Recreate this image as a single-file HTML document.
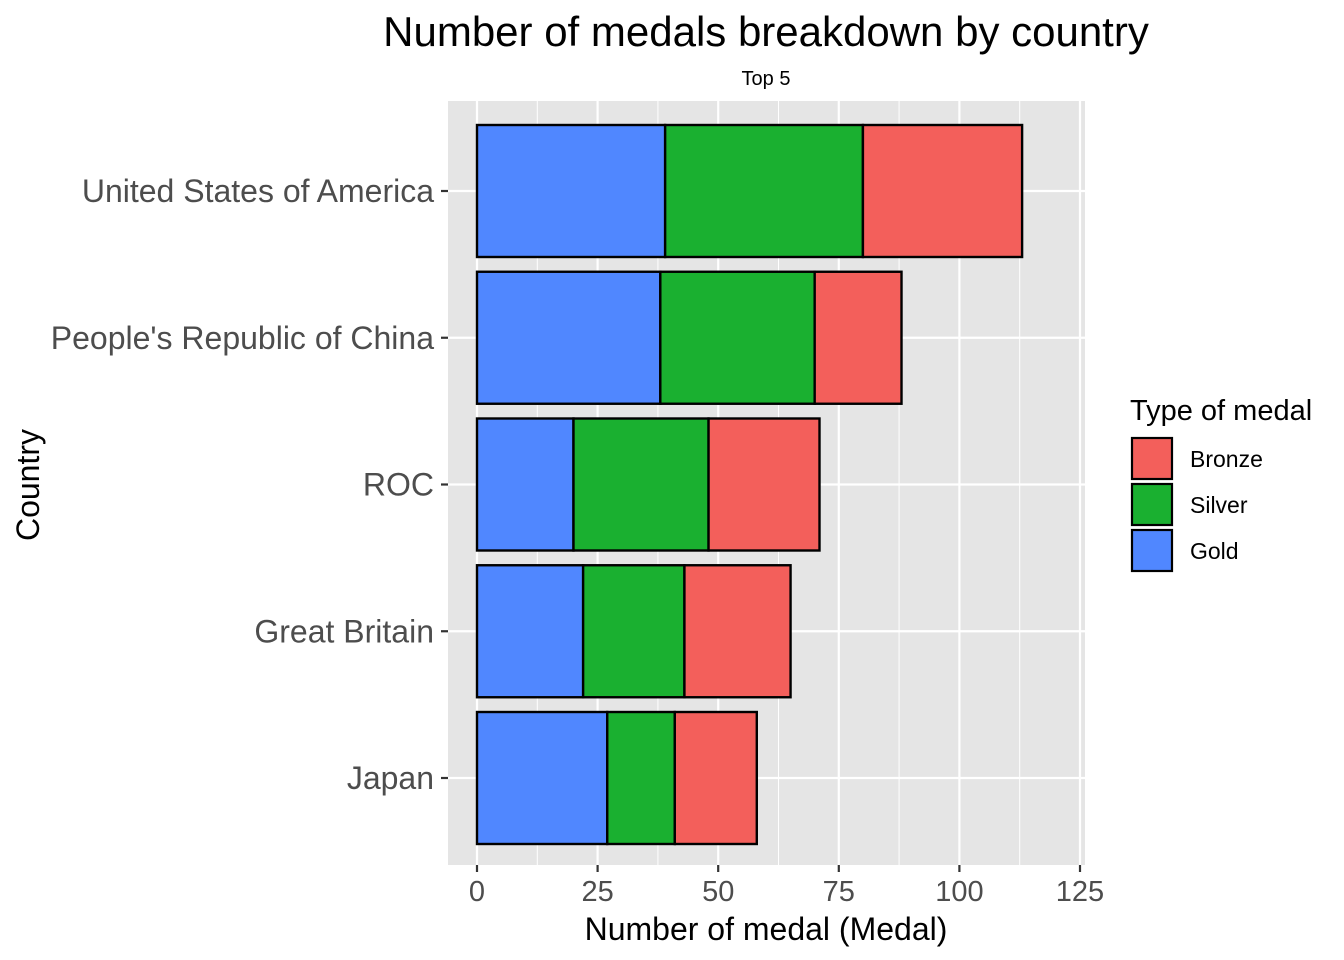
<!DOCTYPE html>
<html><head><meta charset="utf-8"><style>
body{margin:0;background:#fff;}
svg{display:block;font-family:"Liberation Sans",Arial,sans-serif;}
</style></head><body>
<svg id="c" width="1344" height="960">
<rect x="448" y="101" width="637" height="764" fill="#E5E5E5"/>
<g id="grid"></g><g id="bars"></g><g id="axes"></g>
<text x="766" y="46" font-size="42" text-anchor="middle">Number of medals breakdown by country</text>
<text x="766" y="85" font-size="20" text-anchor="middle">Top 5</text>
<text x="766" y="940" font-size="32" text-anchor="middle">Number of medal (Medal)</text>
<text transform="translate(39,485) rotate(-90)" font-size="32" text-anchor="middle">Country</text>
<g>
<text x="1130" y="420" font-size="29">Type of medal</text>
<g id="legend"></g>
</g>
</svg>
<script>
const countries=["United States of America","People's Republic of China","ROC","Great Britain","Japan"];
const gold=[39,38,20,22,27];
const silver=[41,32,28,21,14];
const bronze=[33,18,23,22,17];
const xTicks=[0,25,50,75,100,125];
const ns="http://www.w3.org/2000/svg";
const X=v=>477+v*4.824;
const Y=i=>191+i*146.75;
function mk(t,a,p){const e=document.createElementNS(ns,t);for(const k in a)e.setAttribute(k,a[k]);p.appendChild(e);return e;}
const grid=document.getElementById('grid'),bars=document.getElementById('bars'),axes=document.getElementById('axes');
xTicks.forEach((v,i)=>{
  if(i<xTicks.length-1){const m=mk('line',{x1:X(v+12.5),x2:X(v+12.5),y1:101,y2:865,stroke:'#fff','stroke-width':1},grid);
  
  }
  const l=mk('line',{x1:X(v),x2:X(v),y1:101,y2:865,stroke:'#fff','stroke-width':2.2},grid);
  
  
  mk('line',{x1:X(v),x2:X(v),y1:865,y2:872,stroke:'#333','stroke-width':2.2},axes);
  const t=mk('text',{x:X(v),y:901,'font-size':29,fill:'#4D4D4D','text-anchor':'middle'},axes);
  t.textContent=v;
  
  
});
const cols={g:'#5087FF',s:'#1AB030',b:'#F35F5B'};
countries.forEach((c,i)=>{
  const y=Y(i);
  const l=mk('line',{x1:448,x2:1085,y1:y,y2:y,stroke:'#fff','stroke-width':2.2},grid);
  
  
  mk('line',{x1:441,x2:448,y1:y,y2:y,stroke:'#333','stroke-width':2.2},axes);
  const t=mk('text',{x:434,y:y+11,'font-size':32,fill:'#4D4D4D','text-anchor':'end'},axes);
  t.textContent=c;
  
  
  const segs=[[0,gold[i],cols.g,'gold'],[gold[i],gold[i]+silver[i],cols.s,'silver'],[gold[i]+silver[i],gold[i]+silver[i]+bronze[i],cols.b,'bronze']];
  segs.forEach(s=>{
    const r=mk('rect',{x:X(s[0]),y:y-66,width:X(s[1])-X(s[0]),height:132,fill:s[2],stroke:'#000','stroke-width':2.4},bars);
    
    
  });
});
const lg=document.getElementById('legend');
[['Bronze',cols.b],['Silver',cols.s],['Gold',cols.g]].forEach((d,i)=>{
  const y=438+i*46;
  const r=mk('rect',{x:1132,y:y,width:40,height:41,fill:d[1],stroke:'#000','stroke-width':2.2},lg);
  
  
  const t=mk('text',{x:1190,y:y+29,'font-size':23},lg);
  t.textContent=d[0];
  
  
});
</script>
</body></html>
